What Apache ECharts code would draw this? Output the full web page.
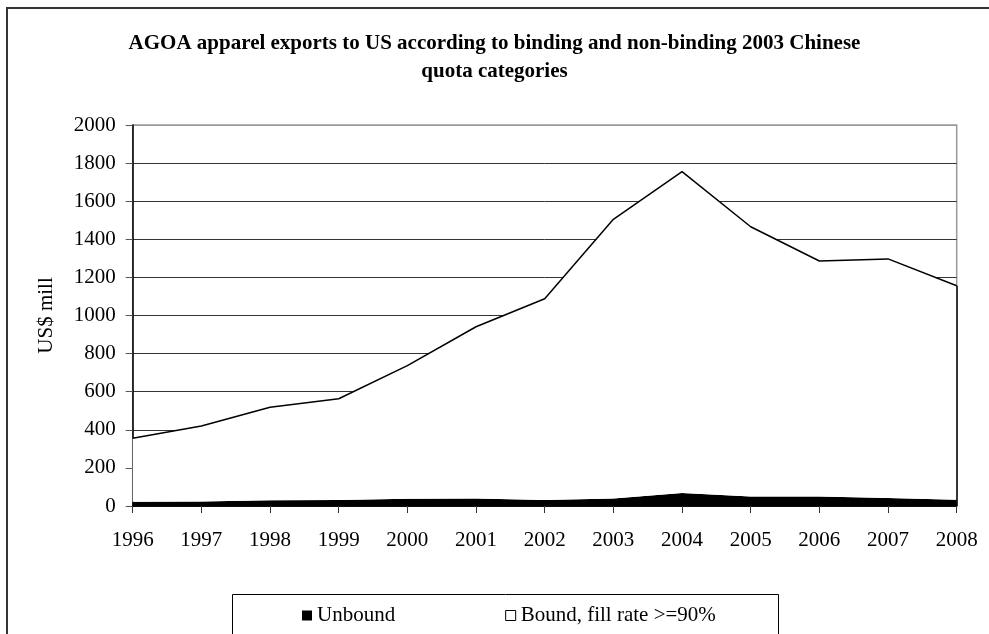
<!DOCTYPE html>
<html>
<head>
<meta charset="utf-8">
<script src="https://cdn.jsdelivr.net/npm/echarts@6/dist/echarts.min.js"></script>
<style>
html,body{margin:0;padding:0;background:#fff;}
#chart{width:989px;height:634px;}
</style>
</head>
<body>
<div id="chart"></div>
<script>
var years = ['1996','1997','1998','1999','2000','2001','2002','2003','2004','2005','2006','2007','2008'];
var unbound = [22, 24, 30, 32, 38, 40, 31, 40, 68, 50, 50, 42, 33];
var bound = [334, 396, 488, 531, 699, 901, 1057, 1465, 1687, 1416, 1236, 1255, 1123];
var yTicks = [0, 200, 400, 600, 800, 1000, 1200, 1400, 1600, 1800, 2000];
var legendNames = ['Unbound', 'Bound, fill rate >=90%'];
var titleText = 'AGOA apparel exports to US according to binding and non-binding 2003 Chinese\nquota categories';
var yName = 'US$ mill';

var lastIdx = years.length - 1;
var lastTotal = unbound[lastIdx] + bound[lastIdx];
var serif = '"Liberation Serif", "Times New Roman", serif';

var chart = echarts.init(document.getElementById('chart'));
chart.setOption({
  animation: false,
  backgroundColor: '#fff',
  title: {
    text: titleText,
    left: 'center',
    top: 30,
    padding: 0,
    textStyle: {fontFamily: serif, fontWeight: 'bold', fontSize: 21, lineHeight: 28, color: '#000'}
  },
  graphic: [
    {type: 'rect', silent: true, z: -1, shape: {x: 7, y: 8, width: 1000, height: 700},
     style: {fill: 'none', stroke: '#333', lineWidth: 2}},
    {type: 'rect', silent: true, z: -1, shape: {x: 232.5, y: 594.5, width: 546, height: 60},
     style: {fill: '#fff', stroke: '#000', lineWidth: 1}}
  ],
  legend: {
    left: 302,
    top: 605,
    padding: 0,
    itemGap: 110,
    itemWidth: 10,
    itemHeight: 10,
    icon: 'rect',
    textStyle: {fontFamily: serif, fontSize: 21, color: '#000'},
    data: [
      {name: legendNames[0], itemStyle: {color: '#000', borderWidth: 0}},
      {name: legendNames[1], itemStyle: {color: '#fff', borderColor: '#000', borderWidth: 1}}
    ]
  },
  grid: {left: 132.7, right: 32.3, top: 125, bottom: 128, show: true, borderColor: '#999', borderWidth: 1.5, containLabel: false},
  xAxis: {
    type: 'category',
    data: years,
    boundaryGap: false,
    axisLine: {lineStyle: {color: '#000', width: 1.5}},
    axisTick: {show: true, length: 7, lineStyle: {color: '#333'}},
    axisLabel: {fontFamily: serif, fontSize: 21, color: '#000', margin: 24},
    splitLine: {show: false}
  },
  yAxis: {
    type: 'value',
    min: yTicks[0],
    max: yTicks[yTicks.length - 1],
    interval: yTicks[1] - yTicks[0],
    name: yName,
    nameLocation: 'middle',
    nameRotate: 90,
    nameGap: 76,
    nameTextStyle: {fontFamily: serif, fontSize: 21, color: '#000'},
    axisLine: {show: true, lineStyle: {color: '#000', width: 1.5}},
    axisTick: {show: true, length: 7, lineStyle: {color: '#555'}},
    axisLabel: {fontFamily: serif, fontSize: 21, color: '#000', margin: 17, formatter: function (v) { return String(v); }},
    splitLine: {show: true, lineStyle: {color: ['#333','#333','#333','#333','#333','#333','#333','#333','#333','#333','#999'], width: 1}}
  },
  series: [
    {
      name: legendNames[0], type: 'line', stack: 'total', data: unbound,
      symbol: 'none', lineStyle: {width: 0}, itemStyle: {color: '#000'},
      areaStyle: {color: '#000', opacity: 1}
    },
    {
      name: legendNames[1], type: 'line', stack: 'total', data: bound,
      symbol: 'none', lineStyle: {width: 1.5, color: '#000'}, itemStyle: {color: '#fff', borderColor: '#000'},
      areaStyle: {color: '#fff', opacity: 1},
      markLine: {
        silent: true, symbol: ['none', 'none'], label: {show: false},
        lineStyle: {color: '#000', width: 1.5, type: 'solid'},
        data: [[{coord: [lastIdx, 0]}, {coord: [lastIdx, lastTotal]}]]
      }
    }
  ]
});
</script>
</body>
</html>
